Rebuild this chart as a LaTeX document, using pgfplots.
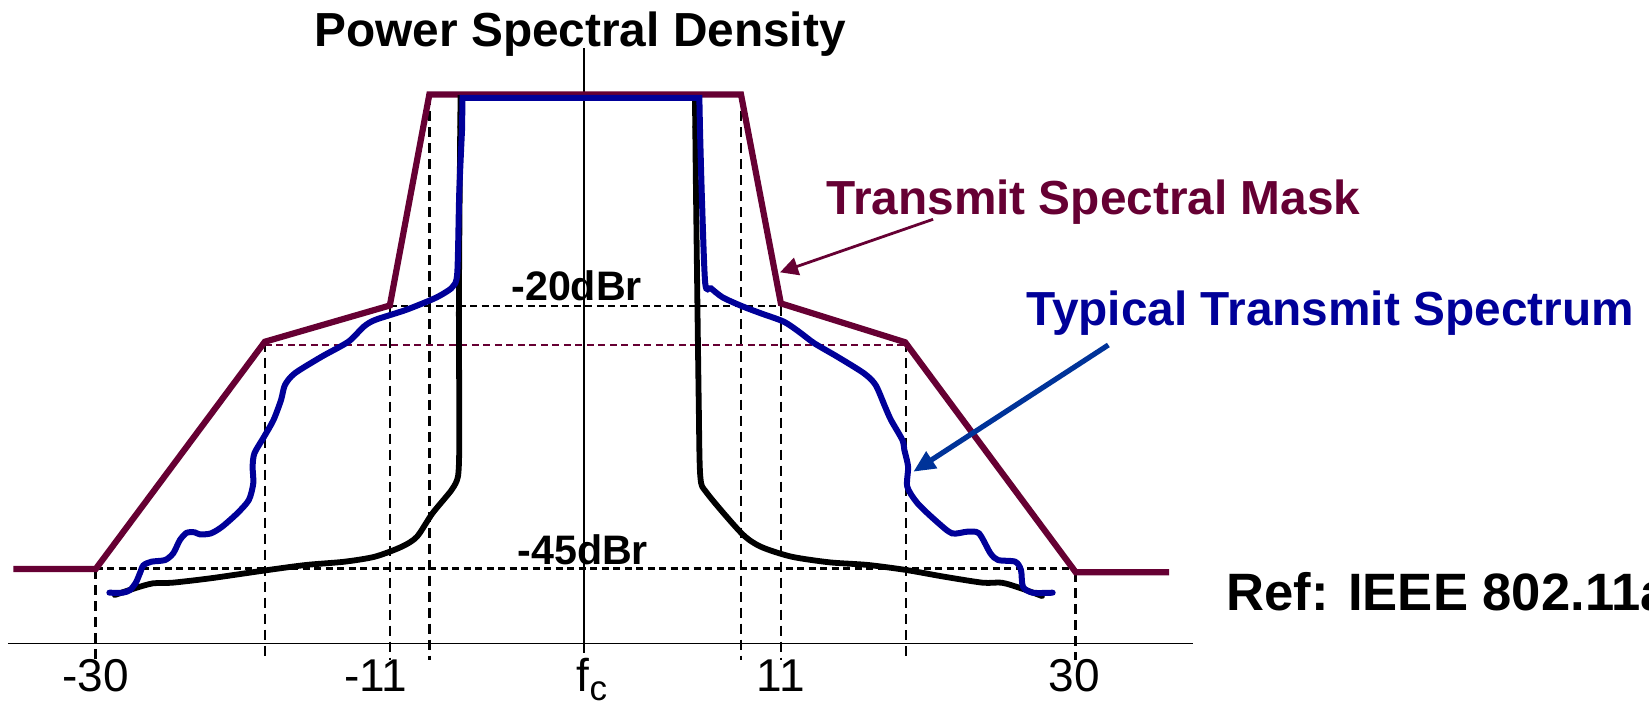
\documentclass[border=0pt]{standalone}
\usepackage{fontspec}
\setmainfont{Liberation Sans}
\usepackage{pgfplots}
\pgfplotsset{compat=1.18}
\usetikzlibrary{arrows.meta}
\definecolor{mask}{RGB}{102,0,51}
\definecolor{spec}{RGB}{0,0,153}
\definecolor{arr}{RGB}{0,51,153}
\begin{document}
\begin{tikzpicture}
\begin{axis}[
  scale only axis, width=592.5pt, height=321.75pt,
  xmin=-35.33, xmax=37.22, ymin=-52.19, ymax=9.095,
  axis x line=bottom, axis y line=none,
  x axis line style={-, line width=0.9pt},
  xtick={-29.95,-12.8,0.43,11.99,29.94},
  xticklabels={{-30},{-11},{f\raisebox{-4.6pt}{\fontsize{17.5pt}{17.5pt}\selectfont c}},{11},{30}},
  major tick length=0pt,
  xticklabel style={anchor=base, yshift=-24pt, font=\fontsize{23pt}{23pt}\selectfont},
  clip=false,
]
% dashed vertical guides
\addplot[black, line width=1.2pt, dash pattern=on 5pt off 3pt] coordinates {(-29.96,-45.1) (-29.96,-53.76)};
\addplot[black, line width=1.2pt, dash pattern=on 5pt off 3pt] coordinates {(-19.60,-23.45) (-19.60,-53.76)};
\addplot[black, line width=1.2pt, dash pattern=on 5pt off 3pt] coordinates {(-11.95,-20.0) (-11.95,-53.76)};
\addplot[black, line width=1.2pt, dash pattern=on 5pt off 3pt] coordinates {(-9.53,0) (-9.53,-53.76)};
\addplot[black, line width=1.2pt, dash pattern=on 5pt off 3pt] coordinates {(9.55,0) (9.55,-53.76)};
\addplot[black, line width=1.2pt, dash pattern=on 5pt off 3pt] coordinates {(11.99,-20.0) (11.99,-53.76)};
\addplot[black, line width=1.2pt, dash pattern=on 5pt off 3pt] coordinates {(19.65,-23.5) (19.65,-53.76)};
\addplot[black, line width=1.2pt, dash pattern=on 5pt off 3pt] coordinates {(30.04,-45.4) (30.04,-53.76)};
% dashed horizontal guides
\addplot[black, line width=1.1pt, dash pattern=on 3.5pt off 2.25pt] coordinates {(-11.95,-20.05) (11.99,-20.05)};
\addplot[mask, line width=0.9pt, dash pattern=on 3.5pt off 2.25pt] coordinates {(-19.60,-23.76) (19.65,-23.76)};
\addplot[black, line width=1.1pt, dash pattern=on 3.5pt off 2.25pt] coordinates {(-29.96,-45.05) (30.04,-45.05)};
% centre line
\addplot[black, line width=0.9pt] coordinates {(-0.04,4.52) (-0.04,-53.05)};
% transmit spectral mask
\addplot[mask, line width=3.1pt] coordinates {
 (-35.0,-45.1) (-29.96,-45.1) (-19.60,-23.45) (-11.95,-20.0) (-9.53,0.1)
 (9.55,0.1) (11.99,-19.8) (19.60,-23.5) (30.04,-45.4) (35.76,-45.4)};
% black spectrum
\addplot[black, line width=2.9pt, line cap=round, smooth, tension=0.45] coordinates {
 (-28.79,-47.57) (-27.5,-46.9) (-26.45,-46.46) (-25.27,-46.40) (-22.93,-45.98)
 (-19.41,-45.19) (-17.08,-44.71) (-14.73,-44.40) (-12.86,-43.92) (-11.22,-42.97)
 (-10.29,-42.02) (-9.34,-39.79) (-8.17,-37.57) (-7.78,-36.30) (-7.70,-33.76)
 (-7.70,-29.0) (-7.72,-19.48) (-7.64,-3)};
\addplot[black, line width=2.9pt, line cap=round] coordinates {
 (-7.64,-3) (-7.62,-0.24) (6.73,-0.24) (6.75,-3)};
\addplot[black, line width=2.9pt, line cap=round, smooth, tension=0.45] coordinates {
 (6.75,-3) (6.80,-9.95) (6.96,-29.0) (7.06,-36.30) (7.48,-37.89) (9.59,-41.70)
 (10.76,-42.97) (12.64,-43.92) (14.98,-44.46) (17.32,-44.71) (19.67,-45.19)
 (22.0,-45.83) (24.35,-46.40) (25.52,-46.40) (26.69,-46.93) (27.98,-47.67)};
% blue typical transmit spectrum
\addplot[spec, line width=3pt, line cap=round, smooth, tension=0.45] coordinates {
 (-29.12,-47.35) (-28.3,-47.35) (-27.86,-47.1) (-27.5,-46.4) (-27.25,-45.5)
 (-27.04,-44.75) (-26.55,-44.40) (-25.71,-44.24) (-25.21,-43.6) (-24.80,-42.33)
 (-24.39,-41.65) (-23.9,-41.6) (-23.57,-41.8) (-22.9,-41.7) (-22.22,-41.07)
 (-21.29,-39.79) (-20.58,-38.52) (-20.31,-36.93) (-20.35,-35.35) (-20.24,-34.08)
 (-19.65,-32.50) (-19.07,-30.90) (-18.61,-29.0) (-18.37,-27.57) (-17.77,-26.46)
 (-16.13,-24.88) (-14.49,-23.45) (-13.55,-22.02) (-12.86,-21.38) (-10.98,-20.43)
 (-9.34,-19.41) (-8.64,-18.84) (-8.10,-18.21) (-7.82,-16.90) (-7.70,-9.29) (-7.53,-3.29)};
\addplot[spec, line width=3pt, line cap=round] coordinates {
 (-7.53,-3.29) (-7.50,-0.22) (7.0,-0.22) (7.04,-3.29)};
\addplot[spec, line width=3pt, line cap=round, smooth, tension=0.45] coordinates {
 (7.04,-3.29) (7.16,-9.95) (7.36,-17.89) (7.71,-18.36) (8.42,-19.22) (9.59,-20.05)
 (10.76,-20.74) (12.17,-21.54) (13.10,-22.50) (14.04,-23.60) (15.45,-24.88)
 (17.08,-26.46) (17.79,-27.57) (18.37,-29.64) (18.73,-30.90) (19.43,-32.81)
 (19.55,-33.76) (19.78,-35.35) (19.73,-37.26) (20.36,-38.84) (21.54,-40.59)
 (22.47,-41.70) (23.41,-41.54) (24.12,-41.70) (24.82,-43.60) (25.29,-44.24)
 (26.34,-44.40) (26.69,-45.19) (26.81,-46.78) (27.40,-47.35) (28.63,-47.35)};
% arrows
\addplot[mask, line width=1.4pt, -{Triangle[length=9pt,width=9pt]}] coordinates {(21.31,-11.79) (11.94,-16.84)};
\addplot[arr, line width=2.6pt, -{Triangle[length=11pt,width=9.5pt]}] coordinates {(32.04,-23.76) (20.10,-35.83)};
% texts
\node[inner sep=0pt, anchor=base west, font=\bfseries\fontsize{23.9pt}{28pt}\selectfont] at (axis cs:-16.59,4.62) {Power Spectral Density};
\node[inner sep=0pt, anchor=base west, text=mask, font=\bfseries\fontsize{23.9pt}{28pt}\selectfont] at (axis cs:14.76,-11.29) {Transmit Spectral Mask};
\node[inner sep=0pt, anchor=base west, text=spec, font=\bfseries\fontsize{23.9pt}{28pt}\selectfont] at (axis cs:27.0,-21.86) {Typical Transmit Spectrum};
\node[inner sep=0pt, anchor=base west, font=\bfseries\fontsize{20.6pt}{24pt}\selectfont] at (axis cs:-4.53,-19.48) {-20dBr};
\node[inner sep=0pt, anchor=base west, font=\bfseries\fontsize{20.6pt}{24pt}\selectfont] at (axis cs:-4.16,-44.71) {-45dBr};
\node[inner sep=0pt, anchor=base west, font=\bfseries\fontsize{26.3pt}{30pt}\selectfont] at (axis cs:39.25,-49.0) {Ref: IEEE 802.11a};
\coordinate (BL) at (axis cs:-35.816,-58.05);
\coordinate (TR) at (axis cs:65.14,9.095);
\end{axis}
\pgfresetboundingbox
\path (BL) rectangle (TR);
\end{tikzpicture}
\end{document}
